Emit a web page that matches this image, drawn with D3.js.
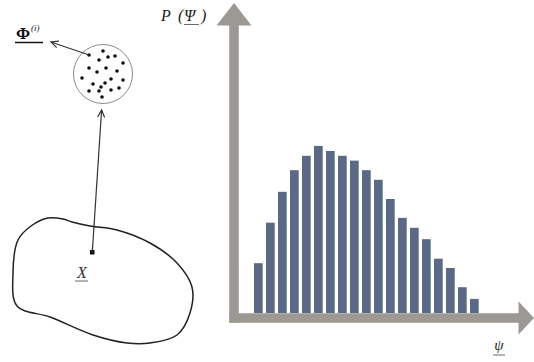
<!DOCTYPE html>
<html>
<head>
<meta charset="utf-8">
<script src="https://cdn.jsdelivr.net/npm/d3@7"></script>
<style>
  html, body { margin: 0; padding: 0; background: #fff; }
  svg { display: block; }
</style>
</head>
<body>
<svg id="chart" width="534" height="362"></svg>
<script>
// Histogram bins of psi and their probability heights P(psi)
const bins = ["1","2","3","4","5","6","7","8","9","10","11","12","13","14","15","16","17","18","19"];
const probs = [16.6, 30.1, 40.4, 47.6, 52.4, 55.7, 54.0, 52.4, 50.8, 47.6, 44.4, 38.0, 31.7, 28.4, 24.6, 18.1, 15.0, 8.6, 4.7];

// Sample points scattered inside the material-point circle (offsets from its centre)
const sampleDots = [
  [-14,-19],[0,-23],[5,-17],[12,-18],[-4,-14],[20,-11],[-14,-6],[3,-6],[-6,-2],
  [14,-3],[-21,4],[8,5],[20,6],[-10,10],[2,9],[-2,13],[-14,17],[-4,17],[8,16],[16,14],[-1,23]
];

// Outline of the body domain
const bodyOutline = [
  [18,240],[31,226],[48,218],[63,219],[72,222],[90,226],[117,230],[150,243],[177,263],
  [192,287],[190,313],[177,335],[150,343],[127,343],[93,335],[50,317],[17,306],[13,273]
];

const svg = d3.select("#chart");
const serif = "'Liberation Serif', 'DejaVu Serif', serif";

const axisColor = "#9c9893";
const barColor = "#5a6986";

// ---- histogram ----
const x = d3.scaleBand().domain(bins).range([254, 478.7]).paddingInner(0.275).paddingOuter(0);
const y = d3.scaleLinear().domain([0, 100]).range([313, 13]);

svg.append("g").selectAll("rect").data(probs).join("rect")
  .attr("x", (d, i) => x(bins[i]))
  .attr("y", d => y(d))
  .attr("width", x.bandwidth())
  .attr("height", d => y(0) - y(d))
  .attr("fill", barColor);

// axes as thick arrows
const ox = 234, oy = 318, thick = 9.5;
const axes = svg.append("g").attr("fill", axisColor);
axes.append("rect").attr("x", ox - thick / 2).attr("y", 24).attr("width", thick).attr("height", oy + thick / 2 - 24);
axes.append("path").attr("d", `M${ox},3 L${ox + 17.5},25.5 L${ox - 17.5},25.5 Z`);
axes.append("rect").attr("x", ox - thick / 2).attr("y", oy - thick / 2).attr("width", 520 - ox + thick / 2).attr("height", thick);
axes.append("path").attr("d", `M534,${oy} L518.5,${oy - 16.5} L518.5,${oy + 16.5} Z`);

// axis titles
const titleStyle = sel => sel.attr("font-family", serif).attr("font-size", 16)
  .attr("font-style", "italic").attr("fill", "#222").attr("y", 21);
svg.append("text").attr("x", 161).call(titleStyle).text("P");
svg.append("text").attr("x", 178).call(titleStyle).text("(");
svg.append("text").attr("x", 184).call(titleStyle).text("Ψ");
svg.append("text").attr("x", 201).call(titleStyle).text(")");
svg.append("line").attr("x1", 184).attr("x2", 199).attr("y1", 24.5).attr("y2", 24.5)
  .attr("stroke", "#444").attr("stroke-width", 0.8);

svg.append("text").attr("x", 499).attr("y", 350).attr("text-anchor", "middle").attr("font-family", serif)
  .attr("font-size", 15).attr("font-style", "italic").attr("fill", "#222").text("ψ");
svg.append("line").attr("x1", 493).attr("x2", 505).attr("y1", 355).attr("y2", 355)
  .attr("stroke", "#444").attr("stroke-width", 0.8);

// ---- body domain schematic ----
const outline = d3.line().curve(d3.curveCatmullRomClosed.alpha(0.5));
svg.append("path").attr("d", outline(bodyOutline)).attr("fill", "none")
  .attr("stroke", "#222").attr("stroke-width", 1.5);

// material point X
svg.append("rect").attr("x", 90).attr("y", 250).attr("width", 4.5).attr("height", 4.5).attr("fill", "#111");
svg.append("text").attr("x", 82).attr("y", 278).attr("text-anchor", "middle").attr("font-family", serif)
  .attr("font-size", 16).attr("font-style", "italic").attr("fill", "#333").text("X");
svg.append("line").attr("x1", 75).attr("x2", 88).attr("y1", 281).attr("y2", 281)
  .attr("stroke", "#444").attr("stroke-width", 0.8);

// arrow helper: straight shaft with open V head
function arrow(x1, y1, x2, y2) {
  const a = Math.atan2(y2 - y1, x2 - x1), L = 8, w = 0.45;
  const g = svg.append("g").attr("stroke", "#333").attr("fill", "none").attr("stroke-width", 1.2);
  g.append("line").attr("x1", x1).attr("y1", y1).attr("x2", x2).attr("y2", y2);
  g.append("path").attr("d",
    `M${x2 - L * Math.cos(a - w)},${y2 - L * Math.sin(a - w)} L${x2},${y2} L${x2 - L * Math.cos(a + w)},${y2 - L * Math.sin(a + w)}`);
}
arrow(92.3, 252, 101.6, 110);

// sampling circle with its points
const cx = 103, cy = 74, r = 29.5;
svg.append("circle").attr("cx", cx).attr("cy", cy).attr("r", r)
  .attr("fill", "none").attr("stroke", "#8a8a8a").attr("stroke-width", 1);
svg.append("g").selectAll("circle").data(sampleDots).join("circle")
  .attr("cx", d => cx + d[0]).attr("cy", d => cy + d[1]).attr("r", 1.8).attr("fill", "#111");

arrow(89, 55, 51, 42);

// state variable label
const ph = svg.append("text").attr("x", 16).attr("y", 39).attr("font-family", serif).attr("fill", "#111");
ph.append("tspan").attr("font-size", 17).attr("font-weight", "bold").text("Φ");
ph.append("tspan").attr("font-size", 9).attr("font-style", "italic").attr("dy", -8).attr("dx", 1).text("(i)");
svg.append("line").attr("x1", 15).attr("x2", 43).attr("y1", 42.5).attr("y2", 42.5)
  .attr("stroke", "#111").attr("stroke-width", 1.5);
</script>
</body>
</html>
